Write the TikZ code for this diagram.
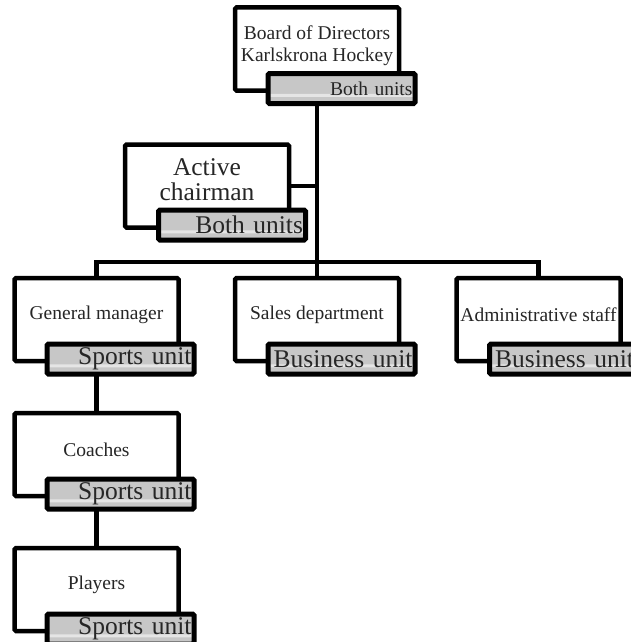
\documentclass[tikz,border=0pt]{standalone}
\usepackage{fontspec}
\setmainfont{Liberation Serif}
\usetikzlibrary{calc}
\tikzset{
  box/.style={draw, line width=4.5pt, rounded corners=1.5pt, minimum width=164pt,
    minimum height=83pt, inner sep=0pt, outer sep=0pt, fill=white, anchor=north west},
  boxtext/.style={inner sep=0pt, text=black!85, align=center,
    font=\fontsize{19.5}{22}\selectfont},
  bigtext/.style={boxtext, font=\fontsize{25.5}{25}\selectfont},
  unit/.style={draw, line width=5pt, rounded corners=1.5pt, fill=black!22,
    minimum width=147pt, minimum height=30pt, inner xsep=2.5pt, inner ysep=0pt,
    outer sep=0pt, text width=142pt, align=right, text=black!85, anchor=north west,
    font=\fontsize{25.5}{28}\selectfont,
    path picture={\fill[black!10]
      ($(path picture bounding box.south west)!0.32!(path picture bounding box.north west)$)
      rectangle
      ($(path picture bounding box.south east)!0.22!(path picture bounding box.north east)$);}},
  smallunit/.style={unit, font=\fontsize{19.5}{22}\selectfont},
  link/.style={line width=4.5pt, line cap=rect},
}
\begin{document}
\begin{tikzpicture}[x=1pt,y=-1pt]
\useasboundingbox (0,0) rectangle (631,642);
\clip (0,0) rectangle (631,642);
% boxes
\node[box] (board) at (235,7.5) {};
\node[boxtext] (boardt) at ([yshift=3pt]board.center) {Board of Directors\\Karlskrona Hockey};
\node[smallunit] (boardunit) at (268,73.5) {Both units};

\node[box] (chair) at (125,144.5) {};
\node[bigtext] (chairt) at ([yshift=6pt]chair.center) {Active\\chairman};
\node[unit] (chairunit) at (158.5,210) {Both units};

\node[box] (gm) at (14.5,278) {};
\node[boxtext] (gmt) at ([yshift=5pt]gm.center) {General manager};
\node[unit] (gmunit) at (47,344) {Sports unit};

\node[box] (sales) at (235,278) {};
\node[boxtext] (salest) at ([yshift=5pt]sales.center) {Sales department};
\node[unit] (salesunit) at (268,344) {Business unit};

\node[box] (admin) at (456.5,278) {};
\node[boxtext] (admint) at ([yshift=5pt]admin.center) {Administrative staff};
\node[unit] (adminunit) at (489.5,344) {Business unit};

\node[box] (coaches) at (14.5,413) {};
\node[boxtext] (coachest) at ([yshift=5pt]coaches.center) {Coaches};
\node[unit] (coachesunit) at (47,479) {Sports unit};

\node[box] (players) at (14.5,548) {};
\node[boxtext] (playerst) at ([yshift=5pt]players.center) {Players};
\node[unit] (playersunit) at (47,614) {Sports unit};

% connectors
\coordinate (hub) at (317,262);
\draw[link] (board.south |- boardunit.south) -- (board.south |- hub);
\draw[link] (chair.east) -- (chair.east -| hub);
\draw[link] (gm.north |- hub) -- (admin.north |- hub);
\draw[link] (gm.north |- hub) -- (gm.north);
\draw[link] (sales.north |- hub) -- (sales.north);
\draw[link] (admin.north |- hub) -- (admin.north);
\draw[link] (gm.south |- gmunit.south) -- (coaches.north);
\draw[link] (coaches.south |- coachesunit.south) -- (players.north);
\end{tikzpicture}
\end{document}
